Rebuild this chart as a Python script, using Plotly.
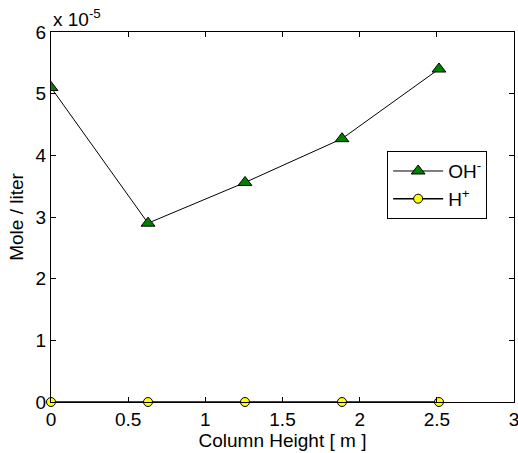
import plotly.graph_objects as go

heights = [0.0, 0.6285, 1.257, 1.8855, 2.514]
oh_vals = [5.10e-5, 2.90e-5, 3.56e-5, 4.27e-5, 5.40e-5]
h_vals = [1e-10, 1e-10, 1e-10, 1e-10, 1e-10]
x_ticks = [0, 0.5, 1, 1.5, 2, 2.5, 3]
x_tick_labels = ["0", "0.5", "1", "1.5", "2", "2.5", "3"]
y_ticks = [0, 1e-5, 2e-5, 3e-5, 4e-5, 5e-5, 6e-5]
y_tick_labels = ["0", "1", "2", "3", "4", "5", "6"]

font = "Liberation Sans, Arial, Helvetica, sans-serif"
fs = 19

fig = go.Figure()
fig.add_trace(go.Scatter(
    x=heights, y=oh_vals, mode="lines+markers", name="OH<sup>-</sup>",
    line=dict(color="black", width=1),
    marker=dict(symbol="triangle-up", size=12, color="#008000",
                line=dict(color="black", width=1)),
))
fig.add_trace(go.Scatter(
    x=heights, y=h_vals, mode="lines+markers", name="H<sup>+</sup>",
    line=dict(color="black", width=1.5),
    marker=dict(symbol="circle", size=9, color="#ffff00",
                line=dict(color="black", width=1)),
    cliponaxis=False,
))

axis_common = dict(
    showline=True, linecolor="black", linewidth=1, mirror="ticks",
    ticks="inside", ticklen=5, tickcolor="black", tickwidth=1,
    showgrid=False, zeroline=False, automargin=False,
    ticklabeloverflow="allow",
    tickfont=dict(family=font, size=fs, color="black"),
)

fig.update_layout(
    width=518, height=453,
    margin=dict(l=51, r=4, t=32, b=51),
    paper_bgcolor="white", plot_bgcolor="white",
    font=dict(family=font, size=fs, color="black"),
    xaxis=dict(range=[0, 3], tickvals=x_ticks, ticktext=x_tick_labels,
               title=dict(text="Column Height [ m ]", font=dict(size=fs), standoff=0),
               **axis_common),
    yaxis=dict(range=[0, 6e-5], tickvals=y_ticks, ticktext=y_tick_labels,
               title=dict(text="Mole / liter", font=dict(size=fs), standoff=6),
               **axis_common),
    legend=dict(x=0.726, y=0.678, xanchor="left", yanchor="top",
                bordercolor="black", borderwidth=1, bgcolor="white",
                font=dict(family=font, size=fs, color="black"),
                itemwidth=50, tracegroupgap=0),
    showlegend=True,
)
fig.add_annotation(
    xref="paper", yref="paper", x=0, y=1, xanchor="left", yanchor="bottom",
    text="x 10<sup>-5</sup>", showarrow=False, xshift=0, yshift=0,
    font=dict(family=font, size=fs, color="black"),
)

fig.write_html("out.html", config={"displayModeBar": False},
               post_script="document.body.style.margin='0';document.body.style.overflow='hidden';")
